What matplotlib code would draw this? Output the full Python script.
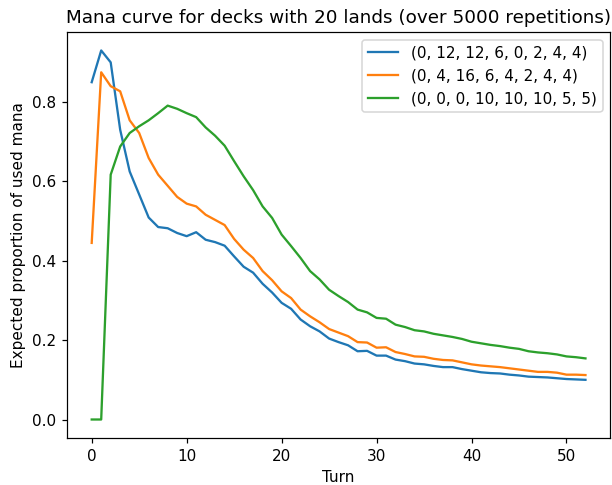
import numpy as np
import matplotlib
matplotlib.use('Agg')
import matplotlib.pyplot as plt

turns = np.arange(53)

labels = [
    '(0, 12, 12, 6, 0, 2, 4, 4)',
    '(0, 4, 16, 6, 4, 2, 4, 4)',
    '(0, 0, 0, 10, 10, 10, 5, 5)',
]

curve_a = [
    0.850, 0.930, 0.900, 0.730, 0.625, 0.567, 0.509, 0.485, 0.482, 0.470,
    0.462, 0.472, 0.453, 0.447, 0.438, 0.411, 0.385, 0.370, 0.342, 0.320,
    0.294, 0.279, 0.252, 0.235, 0.222, 0.204, 0.195, 0.187, 0.172, 0.173,
    0.161, 0.161, 0.151, 0.147, 0.141, 0.139, 0.135, 0.132, 0.132, 0.127,
    0.123, 0.119, 0.117, 0.116, 0.113, 0.111, 0.108, 0.107, 0.106, 0.104,
    0.102, 0.101, 0.100,
]
curve_b = [
    0.445, 0.875, 0.840, 0.827, 0.754, 0.722, 0.659, 0.617, 0.589, 0.561,
    0.544, 0.537, 0.516, 0.503, 0.490, 0.455, 0.428, 0.407, 0.374, 0.351,
    0.323, 0.306, 0.277, 0.260, 0.245, 0.228, 0.219, 0.210, 0.195, 0.194,
    0.181, 0.182, 0.170, 0.165, 0.159, 0.158, 0.153, 0.150, 0.149, 0.144,
    0.139, 0.136, 0.134, 0.132, 0.129, 0.126, 0.123, 0.120, 0.120, 0.118,
    0.113, 0.113, 0.112,
]
curve_c = [
    0.000, 0.000, 0.617, 0.688, 0.722, 0.739, 0.754, 0.772, 0.791, 0.783,
    0.772, 0.762, 0.736, 0.715, 0.690, 0.651, 0.613, 0.578, 0.537, 0.508,
    0.466, 0.437, 0.407, 0.374, 0.353, 0.327, 0.311, 0.296, 0.277, 0.270,
    0.256, 0.254, 0.239, 0.233, 0.225, 0.222, 0.216, 0.212, 0.208, 0.203,
    0.196, 0.192, 0.188, 0.185, 0.181, 0.178, 0.172, 0.169, 0.167, 0.164,
    0.159, 0.157, 0.154,
]

# text and lines in the reference are ~10% larger than the 100 dpi defaults
dpi = 110
fig = plt.figure(figsize=(612 / dpi, 485 / dpi), dpi=dpi)
ax = fig.add_axes([0.1095, 0.097, 0.8875, 0.837])

for curve, lab in zip([curve_a, curve_b, curve_c], labels):
    ax.plot(turns, curve, label=lab, linewidth=1.5)

ax.set_title('Mana curve for decks with 20 lands (over 5000 repetitions)', fontsize=12)
ax.set_xlabel('Turn')
ax.set_ylabel('Expected proportion of used mana')
ax.legend(loc='upper right')

fig.savefig('out.png', dpi=dpi)
